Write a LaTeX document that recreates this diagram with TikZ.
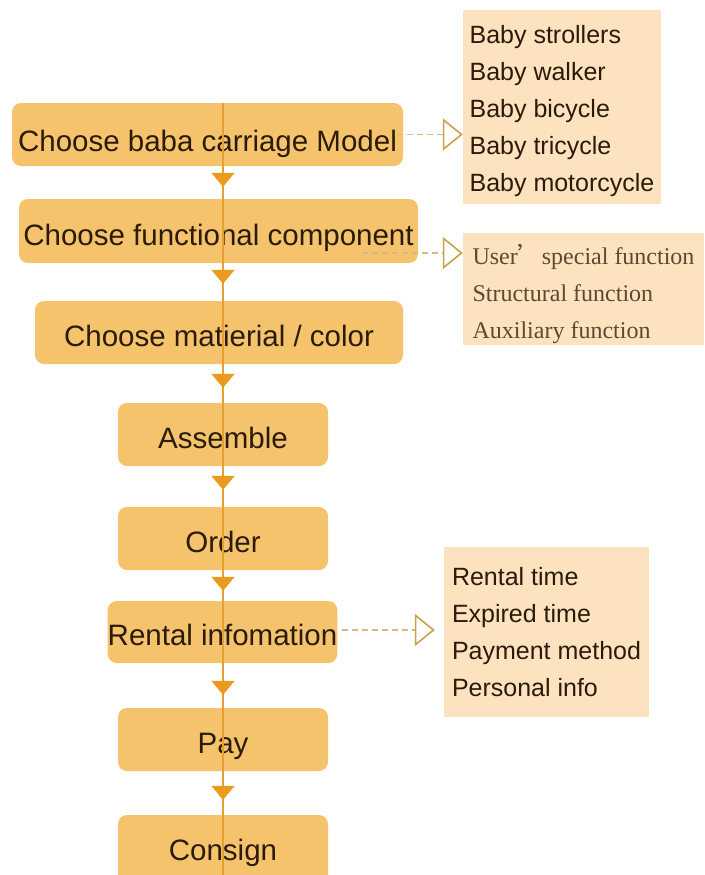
\documentclass[tikz,border=0pt]{standalone}
\usepackage{fontspec}
\setmainfont{Liberation Sans}
\newfontfamily\bookfont{Liberation Serif}
\newfontfamily\cjkfont{Noto Sans CJK SC}
\usetikzlibrary{arrows.meta,decorations.markings}

\definecolor{stepfill}{HTML}{F6C36D}
\definecolor{listfill}{HTML}{FCE2BE}
\definecolor{spinec}{HTML}{E5A030}
\definecolor{tipc}{HTML}{EC9A1E}
\definecolor{inkc}{HTML}{2B1B0B}
\definecolor{bookink}{HTML}{5E4832}
\definecolor{dashc}{HTML}{D9B684}
\definecolor{hollowc}{HTML}{C9A24A}

\tikzset{
  stepbox/.style={fill=stepfill, rounded corners=9pt, inner sep=0pt,
    minimum height=63pt, text=inkc, font=\fontsize{29.5}{35}\selectfont,
    text height=27pt, text depth=0pt},
  listbox/.style={fill=listfill, inner sep=0pt, align=left, text=inkc,
    font=\fontsize{25}{37}\selectfont},
  spine/.style={draw=spinec, line width=1.6pt},
  flowtip/.style={postaction={decorate}, decoration={markings,
    mark=at position #1 with {\arrow{Triangle[length=14pt,width=23pt,color=tipc]}}}},
  optlink/.style={draw=dashc, dash pattern=on 6pt off 4pt, line width=1.1pt,
    -{Triangle[open,length=20pt,width=32pt,line width=1.6pt,color=hollowc]}},
}

\begin{document}
\begin{tikzpicture}[x=1pt,y=1pt]
  \useasboundingbox (0,0) rectangle (704,-875);
  \fill[white] (0,0) rectangle (704,-875);
  \clip (0,0) rectangle (704,-875);

  % process steps
  \node[stepbox, minimum width=391pt, text height=33pt] (b1) at (207.5,-134.5) {Choose baba carriage Model};
  \node[stepbox, minimum width=399pt, minimum height=64pt, text height=29pt] (b2) at (218.5,-231) {Choose functional component};
  \node[stepbox, minimum width=368pt] (b3) at (219,-332.5) {Choose matierial / color};
  \node[stepbox, minimum width=210pt] (b4) at (223,-434.5) {Assemble};
  \node[stepbox, minimum width=210pt] (b5) at (223,-538.5) {Order};
  \node[stepbox, minimum width=229pt, minimum height=62pt] (b6) at (222.5,-632) {Rental infomation};
  \node[stepbox, minimum width=210pt] (b7) at (223,-739.5) {Pay};
  \node[stepbox, minimum width=210pt, minimum height=70pt, text height=21pt] (b8) at (223,-850) {Consign};

  % option lists
  \node[listbox, minimum width=198pt, minimum height=194pt] (A) at (562,-107)
    {\rule{0pt}{26.5pt}Baby strollers\\Baby walker\\Baby bicycle\\Baby tricycle\\Baby motorcycle};
  \node[listbox, minimum width=241pt, minimum height=112pt, text=bookink,
        font=\bookfont\fontsize{24}{37}\selectfont] (B) at (583.5,-289)
    {\rule{0pt}{31pt}User{\cjkfont ’}special function\\Structural function\\Auxiliary function};
  \node[listbox, minimum width=205pt, minimum height=170pt] (C) at (546.5,-632)
    {Rental time\\Expired time\\Payment method\\Personal info};

  % main flow line
  \coordinate (X) at (223,0);
  \draw[spine, flowtip=84pt] (b1.north -| X) -- (b2.north -| X);
  \draw[spine, flowtip=85pt] (b2.north -| X) -- (b3.north -| X);
  \draw[spine, flowtip=87pt] (b3.north -| X) -- (b4.north -| X);
  \draw[spine, flowtip=87pt] (b4.north -| X) -- (b5.north -| X);
  \draw[spine, flowtip=84pt] (b5.north -| X) -- (b6.north -| X);
  \draw[spine, flowtip=94pt] (b6.north -| X) -- (b7.north -| X);
  \draw[spine, flowtip=92pt] (b7.north -| X) -- (b8.north -| X);
  \draw[spine] (b8.north -| X) -- (b8.south -| X);

  % links to the option lists
  \coordinate (d2s) at (362,-253);
  \path ([yshift=2pt]b6.east -| C.west) coordinate (c3);
  \draw[optlink] ([xshift=-6pt]b1.east) -- (b1.east -| A.west);
  \draw[optlink] (d2s) -- (d2s -| B.west);
  \draw[optlink] ([xshift=5pt,yshift=2pt]b6.east) -- ([xshift=-9pt]c3);
\end{tikzpicture}
\end{document}
